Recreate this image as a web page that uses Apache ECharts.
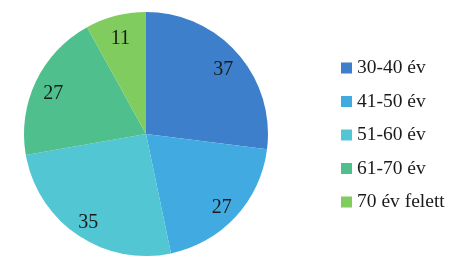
<!DOCTYPE html>
<html><head><meta charset="utf-8">
<script src="https://cdn.jsdelivr.net/npm/echarts@6/dist/echarts.min.js"></script>
<style>html,body{margin:0;padding:0;background:#fff}#c{width:472px;height:269px}</style>
</head><body><div id="c"></div>
<script>
const categories = ['30-40 év', '41-50 év', '51-60 év', '61-70 év', '70 év felett'];
const values = [37, 27, 35, 27, 11];
const colors = ['#3D7FCB', '#41AAE1', '#52C6D3', '#4EBF8D', '#80CC5E'];
const data = categories.map((n, i) => ({ name: n, value: values[i] }));
const font = 'Liberation Serif';
const chart = echarts.init(document.getElementById('c'));
chart.setOption({
  animation: false,
  color: colors,
  legend: {
    orient: 'vertical', left: 336, top: 52, itemWidth: 11, itemHeight: 11, itemGap: 11.5,
    icon: 'rect', data: categories,
    textStyle: { fontFamily: font, fontSize: 19.5, lineHeight: 22, color: '#1a1a1a', padding: [0, 0, 0, 0] }
  },
  series: [{
    type: 'pie', center: [146, 134], radius: [0, 122], startAngle: 90, clockwise: true,
    data: data, label: { show: false }, labelLine: { show: false },
    itemStyle: { borderWidth: 0 }, emphasis: { disabled: true }
  }, {
    type: 'pie', center: [146, 134], radius: [78, 122], startAngle: 90, clockwise: true, silent: true,
    data: data, legendHoverLink: false,
    itemStyle: { color: 'rgba(0,0,0,0)', borderWidth: 0 },
    label: { show: true, position: 'inside', formatter: '{c}', fontFamily: font, fontSize: 20, color: '#1a1a1a', offset: [0, 4] },
    labelLine: { show: false }, emphasis: { disabled: true }
  }]
});
</script></body></html>
